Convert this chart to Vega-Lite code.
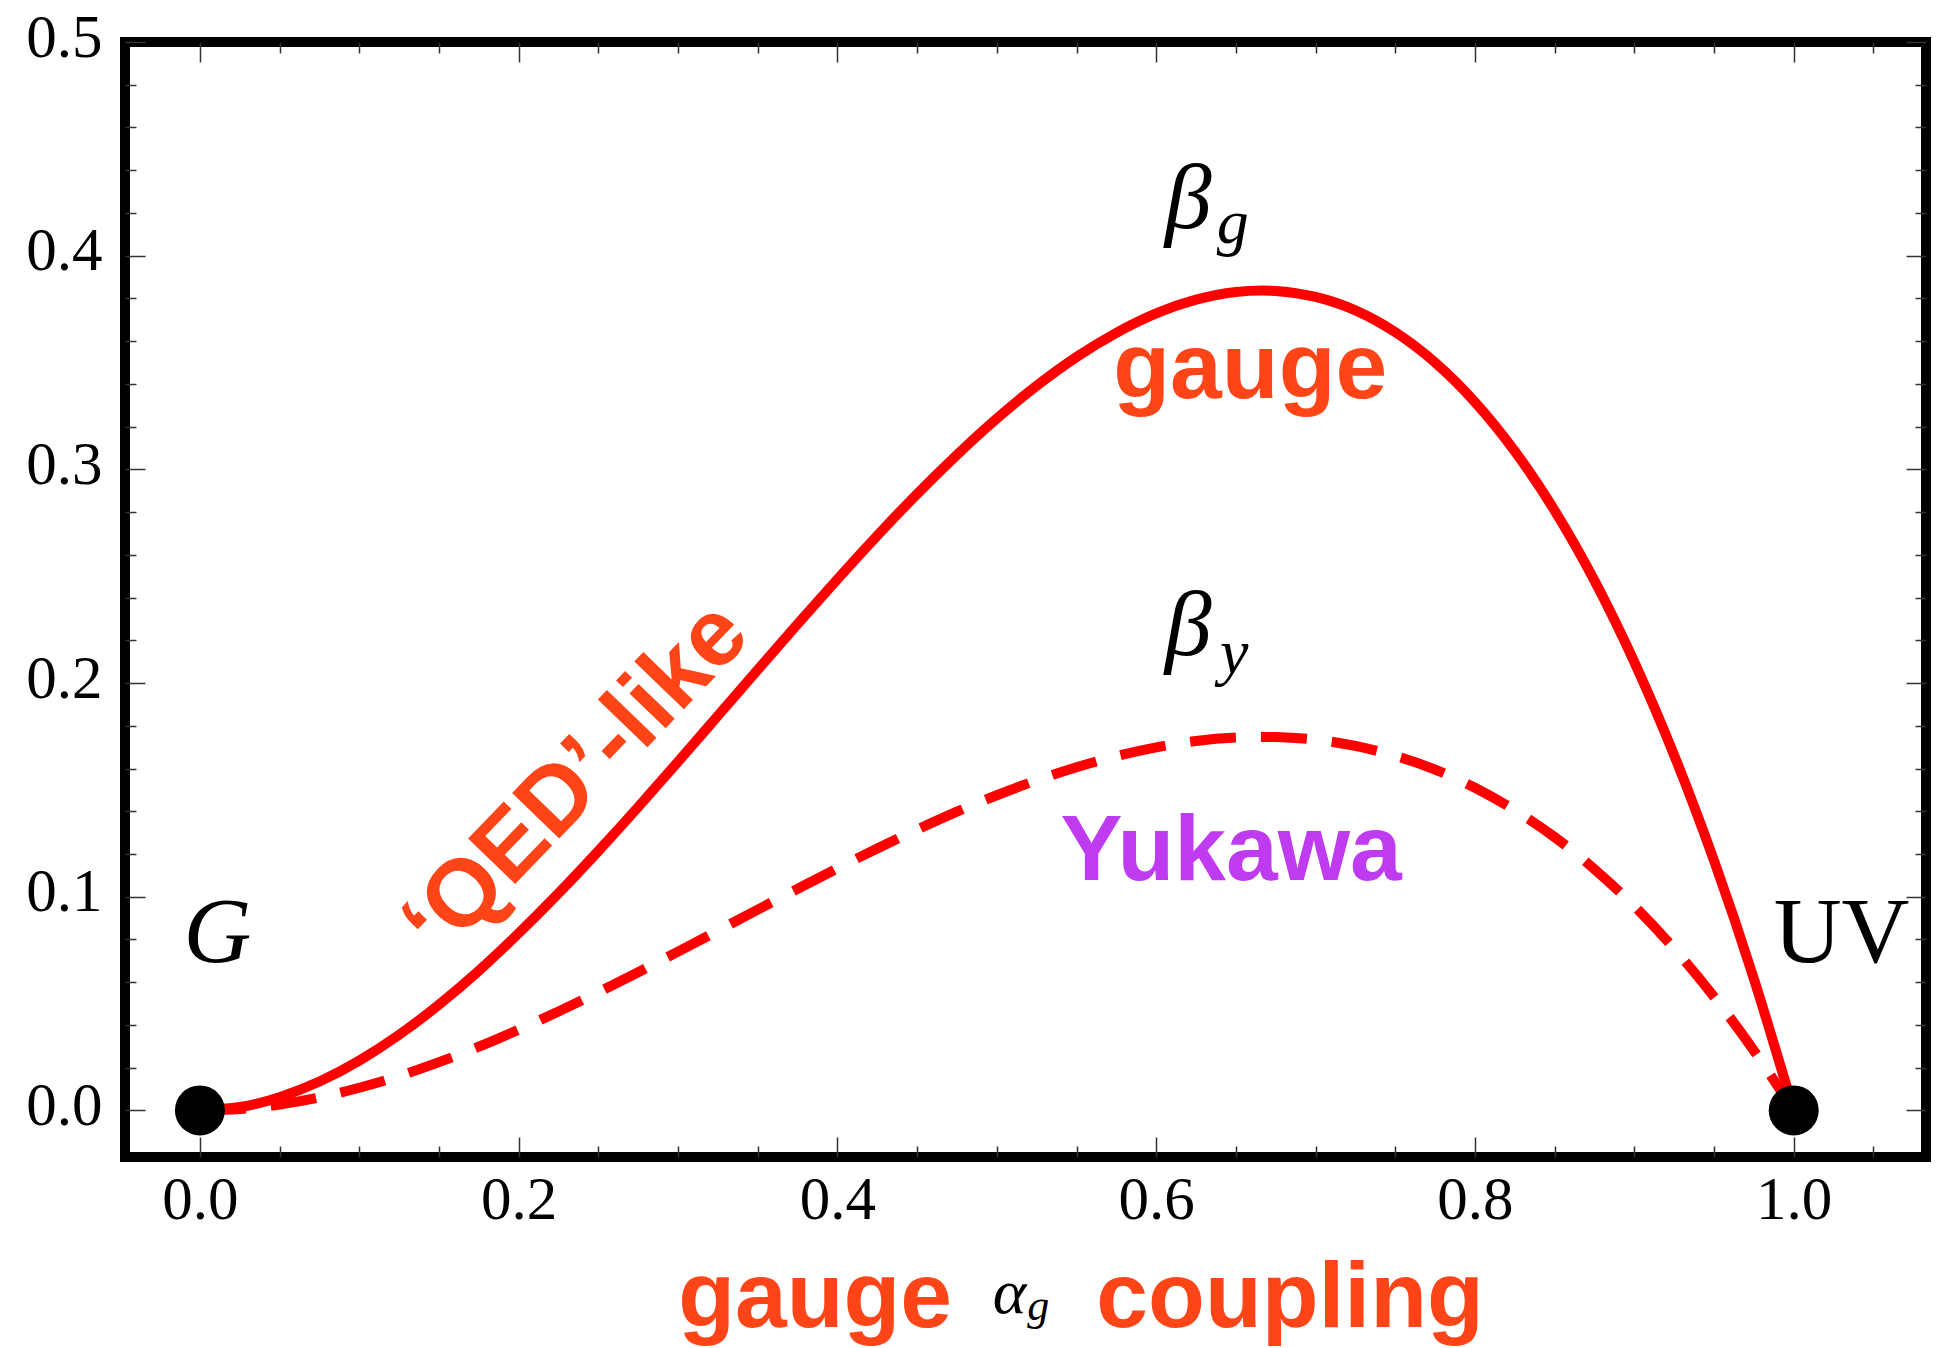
{
  "$schema": "https://vega.github.io/schema/vega-lite/v6.json",
  "width": 1801,
  "height": 1115,
  "autosize": {"type": "none"},
  "padding": {"left": 125, "top": 42, "right": 15, "bottom": 191},
  "background": "white",
  "config": {
    "view": {"stroke": "black", "strokeWidth": 10},
    "axis": {"grid": false, "domain": false, "title": null, "tickColor": "#333333", "tickWidth": 1.5, "labelFont": "Liberation Serif", "labelFontSize": 61, "labelColor": "black", "labelFlush": false, "labelOverlap": false}
  },
  "datasets": {
    "curves": [
      {"a": 0, "g": 0, "y": 0},
      {"a": 0.025, "g": 0.0016, "y": 0.0007},
      {"a": 0.05, "g": 0.0062, "y": 0.0028},
      {"a": 0.075, "g": 0.0135, "y": 0.0061},
      {"a": 0.1, "g": 0.0233, "y": 0.0106},
      {"a": 0.125, "g": 0.0354, "y": 0.0161},
      {"a": 0.15, "g": 0.0495, "y": 0.0226},
      {"a": 0.175, "g": 0.0654, "y": 0.0298},
      {"a": 0.2, "g": 0.0829, "y": 0.0378},
      {"a": 0.225, "g": 0.1016, "y": 0.0463},
      {"a": 0.25, "g": 0.1214, "y": 0.0553},
      {"a": 0.275, "g": 0.142, "y": 0.0647},
      {"a": 0.3, "g": 0.1632, "y": 0.0743},
      {"a": 0.325, "g": 0.1847, "y": 0.0841},
      {"a": 0.35, "g": 0.2062, "y": 0.094},
      {"a": 0.375, "g": 0.2276, "y": 0.1037},
      {"a": 0.4, "g": 0.2486, "y": 0.1133},
      {"a": 0.425, "g": 0.269, "y": 0.1226},
      {"a": 0.45, "g": 0.2885, "y": 0.1314},
      {"a": 0.475, "g": 0.3068, "y": 0.1398},
      {"a": 0.5, "g": 0.3238, "y": 0.1475},
      {"a": 0.525, "g": 0.3391, "y": 0.1545},
      {"a": 0.55, "g": 0.3526, "y": 0.1606},
      {"a": 0.575, "g": 0.3639, "y": 0.1658},
      {"a": 0.6, "g": 0.373, "y": 0.1699},
      {"a": 0.625, "g": 0.3794, "y": 0.1729},
      {"a": 0.65, "g": 0.383, "y": 0.1745},
      {"a": 0.675, "g": 0.3835, "y": 0.1747},
      {"a": 0.7, "g": 0.3807, "y": 0.1735},
      {"a": 0.725, "g": 0.3744, "y": 0.1706},
      {"a": 0.75, "g": 0.3642, "y": 0.1659},
      {"a": 0.775, "g": 0.35, "y": 0.1595},
      {"a": 0.8, "g": 0.3315, "y": 0.151},
      {"a": 0.825, "g": 0.3085, "y": 0.1405},
      {"a": 0.85, "g": 0.2807, "y": 0.1279},
      {"a": 0.875, "g": 0.2479, "y": 0.1129},
      {"a": 0.9, "g": 0.2098, "y": 0.0956},
      {"a": 0.925, "g": 0.1662, "y": 0.0757},
      {"a": 0.95, "g": 0.1169, "y": 0.0532},
      {"a": 0.975, "g": 0.0616, "y": 0.028},
      {"a": 1, "g": 0, "y": 0}
    ]
  },
  "resolve": {"axis": {"x": "independent", "y": "independent"}},
  "layer": [
    {
      "mark": {"type": "rule", "color": "#3B3BA0", "strokeWidth": 3},
      "encoding": {
        "y": {"datum": 0, "type": "quantitative", "scale": {"domain": [-0.0218, 0.5], "nice": false, "zero": false}, "axis": null}
      }
    },
    {
      "data": {"name": "curves"},
      "mark": {"type": "line", "color": "#FF0000", "strokeWidth": 10, "strokeDash": [46, 25], "interpolate": "natural"},
      "encoding": {
        "x": {"field": "a", "type": "quantitative", "scale": {"domain": [-0.047, 1.083], "nice": false, "zero": false},
              "axis": {"orient": "bottom", "values": [0.05, 0.1, 0.15, 0.25, 0.3, 0.35, 0.45, 0.5, 0.55, 0.65, 0.7, 0.75, 0.85, 0.9, 0.95, 1.05], "labels": false, "tickSize": -11}},
        "y": {"field": "y", "type": "quantitative", "scale": {"domain": [-0.0218, 0.5], "nice": false, "zero": false},
              "axis": {"orient": "left", "values": [0.02, 0.04, 0.06, 0.08, 0.12, 0.14, 0.16, 0.18, 0.22, 0.24, 0.26, 0.28, 0.32, 0.34, 0.36, 0.38, 0.42, 0.44, 0.46, 0.48], "labels": false, "tickSize": -11}}
      }
    },
    {
      "data": {"name": "curves"},
      "mark": {"type": "line", "color": "#FF0000", "strokeWidth": 10, "interpolate": "natural"},
      "encoding": {
        "x": {"field": "a", "type": "quantitative", "scale": {"domain": [-0.047, 1.083], "nice": false, "zero": false},
              "axis": {"orient": "bottom", "values": [0, 0.2, 0.4, 0.6, 0.8, 1], "format": ".1f", "tickSize": -20, "labelPadding": 81, "labelBaseline": "alphabetic"}},
        "y": {"field": "g", "type": "quantitative", "scale": {"domain": [-0.0218, 0.5], "nice": false, "zero": false},
              "axis": {"orient": "left", "values": [0, 0.1, 0.2, 0.3, 0.4, 0.5], "format": ".1f", "tickSize": -20, "labelPadding": 43, "labelOffset": -4}}
      }
    },
    {
      "data": {"values": [{"x": 0, "y": 0}, {"x": 1, "y": 0}]},
      "mark": {"type": "point", "filled": true, "color": "black", "opacity": 1, "size": 2500},
      "encoding": {
        "x": {"field": "x", "type": "quantitative", "scale": {"domain": [-0.047, 1.083], "nice": false, "zero": false},
              "axis": {"orient": "top", "values": [0, 0.2, 0.4, 0.6, 0.8, 1], "labels": false, "tickSize": -20}},
        "y": {"field": "y", "type": "quantitative", "scale": {"domain": [-0.0218, 0.5], "nice": false, "zero": false},
              "axis": {"orient": "right", "values": [0, 0.1, 0.2, 0.3, 0.4, 0.5], "labels": false, "tickSize": -20}}
      }
    },
    {
      "data": {"values": [{"t": "G", "x": 0.011, "y": 0.0695}, {"t": "β", "x": 0.62, "y": 0.413}, {"t": "β", "x": 0.62, "y": 0.213}]},
      "mark": {"type": "text", "font": "Liberation Serif", "fontStyle": "italic", "fontSize": 94, "align": "center", "baseline": "alphabetic", "color": "black"},
      "encoding": {
        "x": {"field": "x", "type": "quantitative", "scale": {"domain": [-0.047, 1.083], "nice": false, "zero": false},
              "axis": {"orient": "top", "values": [0.05, 0.1, 0.15, 0.25, 0.3, 0.35, 0.45, 0.5, 0.55, 0.65, 0.7, 0.75, 0.85, 0.9, 0.95, 1.05], "labels": false, "tickSize": -11}},
        "y": {"field": "y", "type": "quantitative", "scale": {"domain": [-0.0218, 0.5], "nice": false, "zero": false},
              "axis": {"orient": "right", "values": [0.02, 0.04, 0.06, 0.08, 0.12, 0.14, 0.16, 0.18, 0.22, 0.24, 0.26, 0.28, 0.32, 0.34, 0.36, 0.38, 0.42, 0.44, 0.46, 0.48], "labels": false, "tickSize": -11}},
        "text": {"field": "t"}
      }
    },
    {
      "data": {"values": [{"t": "g", "x": 0.648, "y": 0.406}, {"t": "y", "x": 0.649, "y": 0.2047}]},
      "mark": {"type": "text", "font": "Liberation Serif", "fontStyle": "italic", "fontSize": 64, "align": "center", "baseline": "alphabetic", "color": "black"},
      "encoding": {
        "x": {"field": "x", "type": "quantitative", "scale": {"domain": [-0.047, 1.083], "nice": false, "zero": false}, "axis": null},
        "y": {"field": "y", "type": "quantitative", "scale": {"domain": [-0.0218, 0.5], "nice": false, "zero": false}, "axis": null},
        "text": {"field": "t"}
      }
    },
    {
      "data": {"values": [{"t": "UV", "x": 1.03, "y": 0.0695}]},
      "mark": {"type": "text", "font": "Liberation Serif", "fontSize": 94, "align": "center", "baseline": "alphabetic", "color": "black"},
      "encoding": {
        "x": {"field": "x", "type": "quantitative", "scale": {"domain": [-0.047, 1.083], "nice": false, "zero": false}, "axis": null},
        "y": {"field": "y", "type": "quantitative", "scale": {"domain": [-0.0218, 0.5], "nice": false, "zero": false}, "axis": null},
        "text": {"field": "t"}
      }
    },
    {
      "data": {"values": [{"t": "gauge", "x": 0.659, "y": 0.3336}, {"t": "gauge", "x": 0.386, "y": -0.1014}, {"t": "coupling", "x": 0.684, "y": -0.1014}]},
      "mark": {"type": "text", "font": "Liberation Sans", "fontWeight": "bold", "fontSize": 93, "align": "center", "baseline": "alphabetic", "color": "#FF4518"},
      "encoding": {
        "x": {"field": "x", "type": "quantitative", "scale": {"domain": [-0.047, 1.083], "nice": false, "zero": false}, "axis": null},
        "y": {"field": "y", "type": "quantitative", "scale": {"domain": [-0.0218, 0.5], "nice": false, "zero": false}, "axis": null},
        "text": {"field": "t"}
      }
    },
    {
      "data": {"values": [{"t": "Yukawa", "x": 0.647, "y": 0.108}]},
      "mark": {"type": "text", "font": "Liberation Sans", "fontWeight": "bold", "fontSize": 93, "align": "center", "baseline": "alphabetic", "color": "#BE3BF0"},
      "encoding": {
        "x": {"field": "x", "type": "quantitative", "scale": {"domain": [-0.047, 1.083], "nice": false, "zero": false}, "axis": null},
        "y": {"field": "y", "type": "quantitative", "scale": {"domain": [-0.0218, 0.5], "nice": false, "zero": false}, "axis": null},
        "text": {"field": "t"}
      }
    },
    {
      "data": {"values": [{"t": "‘QED’-like", "x": 0.236, "y": 0.155}]},
      "mark": {"type": "text", "font": "Liberation Sans", "fontWeight": "bold", "fontSize": 95, "align": "center", "baseline": "middle", "angle": -46, "color": "#FF4518"},
      "encoding": {
        "x": {"field": "x", "type": "quantitative", "scale": {"domain": [-0.047, 1.083], "nice": false, "zero": false}, "axis": null},
        "y": {"field": "y", "type": "quantitative", "scale": {"domain": [-0.0218, 0.5], "nice": false, "zero": false}, "axis": null},
        "text": {"field": "t"}
      }
    },
    {
      "data": {"values": [{"t": "α", "x": 0.508, "y": -0.0948}]},
      "mark": {"type": "text", "font": "Liberation Serif", "fontStyle": "italic", "fontSize": 64, "align": "center", "baseline": "alphabetic", "color": "black"},
      "encoding": {
        "x": {"field": "x", "type": "quantitative", "scale": {"domain": [-0.047, 1.083], "nice": false, "zero": false}, "axis": null},
        "y": {"field": "y", "type": "quantitative", "scale": {"domain": [-0.0218, 0.5], "nice": false, "zero": false}, "axis": null},
        "text": {"field": "t"}
      }
    },
    {
      "data": {"values": [{"t": "g", "x": 0.526, "y": -0.0983}]},
      "mark": {"type": "text", "font": "Liberation Serif", "fontStyle": "italic", "fontSize": 44, "align": "center", "baseline": "alphabetic", "color": "black"},
      "encoding": {
        "x": {"field": "x", "type": "quantitative", "scale": {"domain": [-0.047, 1.083], "nice": false, "zero": false}, "axis": null},
        "y": {"field": "y", "type": "quantitative", "scale": {"domain": [-0.0218, 0.5], "nice": false, "zero": false}, "axis": null},
        "text": {"field": "t"}
      }
    }
  ]
}
